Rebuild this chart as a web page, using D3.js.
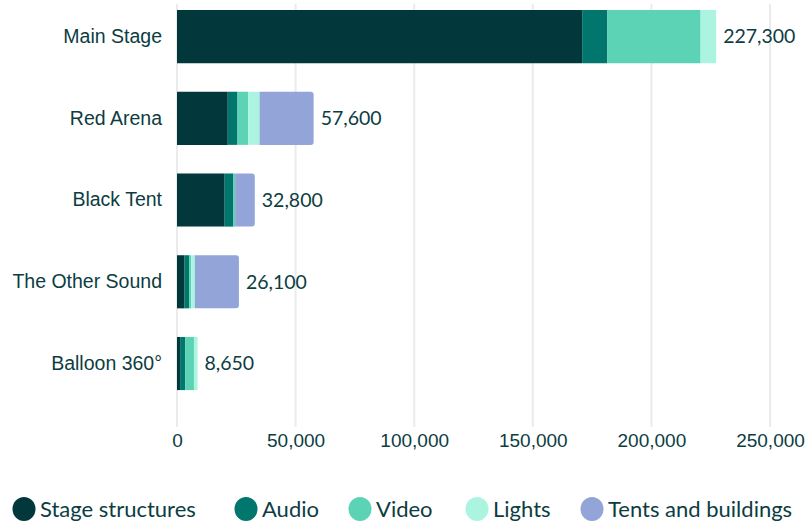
<!DOCTYPE html>
<html>
<head>
<meta charset="utf-8">
<script src="https://cdn.jsdelivr.net/npm/d3@7"></script>
<style>
  html, body { margin: 0; padding: 0; background: #ffffff; }
  svg { display: block; font-family: "Source Sans Pro", Lato, "Noto Sans", sans-serif; }
</style>
</head>
<body>
<svg id="chart" width="809" height="525"></svg>
<script>
// Production cost by stage, split into equipment categories
const stages = ["Main Stage", "Red Arena", "Black Tent", "The Other Sound", "Balloon 360°"];
const seriesNames = ["Stage structures", "Audio", "Video", "Lights", "Tents and buildings"];
const stageStructures = [170800, 21400, 20100, 3200, 1300];
const audio           = [10650, 4100, 3700, 1900, 2200];
const video           = [39300, 4500, 700, 900, 3650];
const lights          = [6550, 4800, 0, 1500, 1500];
const tents           = [0, 22800, 8300, 18600, 0];
const xTicks = [0, 50000, 100000, 150000, 200000, 250000];
const colors = ["#02383c", "#00766c", "#5dd3b6", "#abf5e0", "#93a5d8"];

const textColor = "#0c3d42";
const seriesValues = [stageStructures, audio, video, lights, tents];
const rows = stages.map((name, i) => {
  const row = { stage: name };
  seriesNames.forEach((s, j) => { row[s] = seriesValues[j][i]; });
  row.total = d3.sum(seriesValues, v => v[i]);
  return row;
});

const svg = d3.select("#chart");
const x = d3.scaleLinear().domain([0, 250000]).range([177, 770]);
const y = d3.scaleBand().domain(stages).range([-4.3, 404.4]).paddingInner(0.35).paddingOuter(0.175);
const color = d3.scaleOrdinal().domain(seriesNames).range(colors);

// vertical grid lines
svg.append("g").selectAll("line").data(xTicks).join("line")
  .attr("x1", d => x(d)).attr("x2", d => x(d))
  .attr("y1", 4).attr("y2", 427)
  .attr("stroke", "#ebebeb").attr("stroke-width", 2);

// x axis labels
const xAxis = d3.axisBottom(x).tickValues(xTicks).tickSize(0).tickPadding(0)
  .tickFormat(d3.format(","));
const gx = svg.append("g").attr("transform", "translate(0,429)").call(xAxis);
gx.select(".domain").remove();
gx.selectAll("text").attr("fill", textColor).attr("font-size", 19).attr("dy", "0.95em")
  .style("font-family", "inherit");

// category labels
const yAxis = d3.axisLeft(y).tickSize(0).tickPadding(0);
const gy = svg.append("g").attr("transform", "translate(162,0)").call(yAxis);
gy.select(".domain").remove();
gy.selectAll("text").attr("fill", textColor).attr("font-size", 19.5)
  .style("font-family", "inherit");

// stacked bars
const stack = d3.stack().keys(seriesNames);
const layers = stack(rows);
const lastKey = seriesNames[seriesNames.length - 1];
function roundedRight(x0, x1, y0, h, r) {
  r = Math.min(r, (x1 - x0));
  return `M${x0},${y0}H${x1 - r}Q${x1},${y0} ${x1},${y0 + r}V${y0 + h - r}Q${x1},${y0 + h} ${x1 - r},${y0 + h}H${x0}Z`;
}
svg.append("g").selectAll("g").data(layers).join("g")
  .attr("fill", d => color(d.key))
  .selectAll("path").data(d => d.map(p => ({ key: d.key, p })))
  .join("path")
  .attr("d", d => {
    const x0 = x(d.p[0]), x1 = x(d.p[1]);
    if (x1 - x0 <= 0) return null;
    const y0 = y(d.p.data.stage), h = y.bandwidth();
    return d.key === lastKey ? roundedRight(x0, x1, y0, h, 3)
                             : `M${x0},${y0}H${x1}V${y0 + h}H${x0}Z`;
  });

// totals at the end of each bar
svg.append("g").selectAll("text").data(rows).join("text")
  .attr("x", d => x(d.total) + 7)
  .attr("y", d => y(d.stage) + y.bandwidth() / 2)
  .attr("dy", "0.35em")
  .attr("fill", textColor).attr("font-size", 19.5)
  .text(d => d3.format(",")(d.total));

// legend
const legendX = [24, 246, 360, 477, 592];
const legend = svg.append("g").selectAll("g").data(seriesNames).join("g")
  .attr("transform", (d, i) => `translate(${legendX[i]},509)`);
legend.append("ellipse").attr("rx", 11.5).attr("ry", 12).attr("fill", d => color(d));
legend.append("text").attr("x", 16).attr("dy", "0.35em")
  .attr("fill", textColor).attr("font-size", 22).text(d => d);
</script>
</body>
</html>
